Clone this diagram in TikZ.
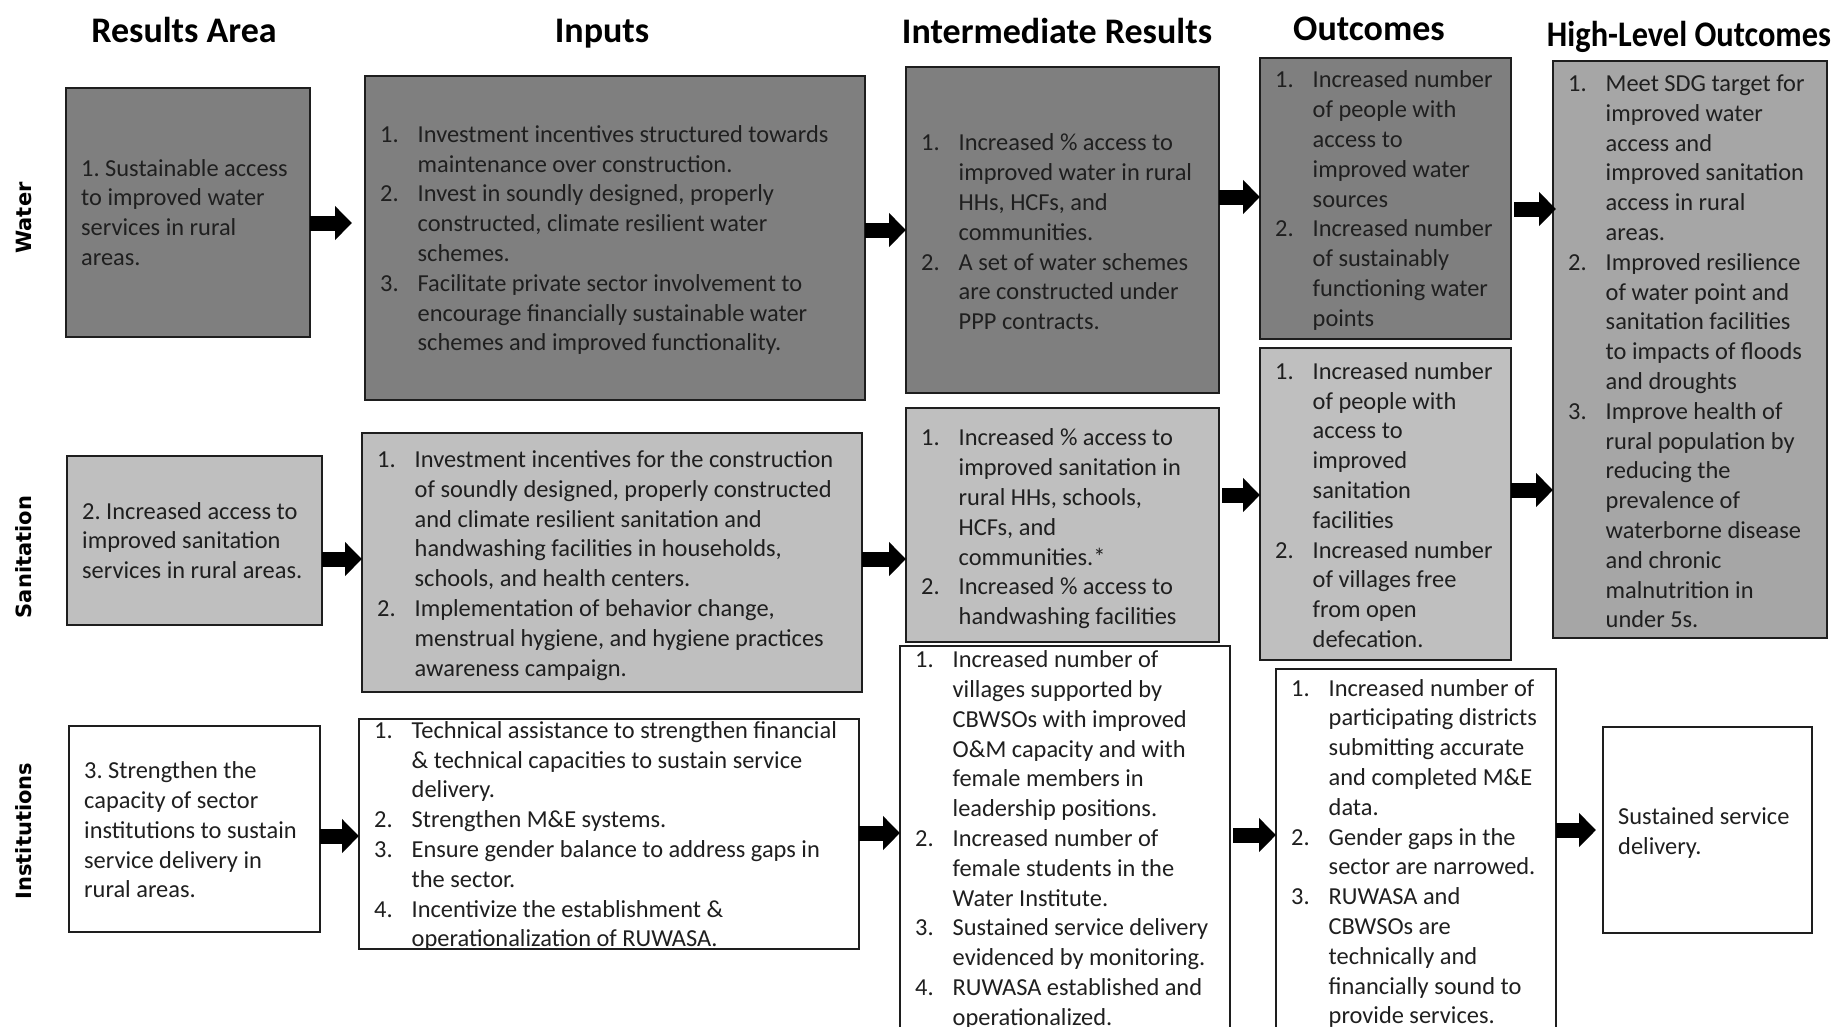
\documentclass[tikz,border=0pt]{standalone}
\usepackage{fontspec}
\setmainfont{Carlito}
\newfontfamily\lblfont{DejaVu Sans}
\usetikzlibrary{arrows.meta,calc}
\newcommand{\numlab}[1]{\makebox[37.5pt][l]{#1}}
\definecolor{darkfill}{HTML}{7F7F7F}
\definecolor{lightfill}{HTML}{BFBFBF}
\definecolor{midfill}{HTML}{A6A6A6}
\definecolor{edge}{HTML}{1E1E1E}
\definecolor{ink}{HTML}{1F1F1F}
\frenchspacing
\begin{document}
\begin{tikzpicture}[x=1pt,y=-1pt,
  box/.style={draw=edge, line width=2.2pt, anchor=north west, outer sep=0pt, inner sep=0pt},
  txt/.style={anchor=west, align=left, inner sep=0pt, font=\frenchspacing\fontsize{24.4}{29.8}\selectfont, text=ink},
  txttop/.style={txt, anchor=north west},
  blockarrow/.style={line width=15pt, draw=black, -{Triangle[length=17pt,width=33pt]}},
  header/.style={anchor=base, font=\fontsize{36}{40}\selectfont\bfseries},
  rowlabel/.style={rotate=90, font=\lblfont\bfseries\fontsize{21}{24}\selectfont}]
\useasboundingbox (0,0) rectangle (1835,1026);
\clip (0,0) rectangle (1835,1026);
\fill[white] (0,0) rectangle (1835,1026);

% headers
\node[header] (h1) at (184,42) {Results Area};
\node[header] (h2) at (602,42) {Inputs};
\node[header] (h3) at (1057,43) {Intermediate Results};
\node[header] (h4) at (1369,40) {Outcomes};
\node[header] (h5) at (1689,46) {\scalebox{0.9}[1]{High-Level Outcomes}};

% row labels
\node[rowlabel] (lw) at (24,218) {Water};
\node[rowlabel] (ls) at (24,557) {Sanitation};
\node[rowlabel] (li) at (24,831) {Institutions};

% ---------- boxes ----------
\node[box, fill=darkfill, minimum width=244pt, minimum height=249pt] (RA1) at (66,88) {};
\node[box, fill=darkfill, minimum width=500pt, minimum height=324pt] (IN1) at (365,76) {};
\node[box, fill=darkfill, minimum width=313pt, minimum height=326pt] (IR1) at (906,67) {};
\node[box, fill=darkfill, minimum width=251pt, minimum height=281pt] (OC1) at (1260,58) {};
\node[box, fill=midfill, minimum width=274pt, minimum height=577pt] (HL) at (1553,61) {};
\node[box, fill=lightfill, minimum width=255pt, minimum height=169pt] (RA2) at (67,456) {};
\node[box, fill=lightfill, minimum width=500pt, minimum height=259pt] (IN2) at (362,433) {};
\node[box, fill=lightfill, minimum width=313pt, minimum height=234pt] (IR2) at (906,408) {};
\node[box, fill=lightfill, minimum width=251pt, minimum height=312pt] (OC2) at (1260,348) {};
\node[box, fill=white, minimum width=251pt, minimum height=206pt] (RA3) at (69,726) {};
\node[box, fill=white, minimum width=500pt, minimum height=230pt] (IN3) at (359,719) {};
\node[box, fill=white, minimum width=330pt, minimum height=400pt] (IR3) at (900,646) {};
\node[box, fill=white, minimum width=280pt, minimum height=377pt] (OC3) at (1276,669) {};
\node[box, fill=white, minimum width=209pt, minimum height=206pt] (HL3) at (1603,727) {};

% ---------- texts ----------
\node[txt] (RA1t) at ($(RA1.west)+(15,0)$)
 {1. Sustainable access\\to improved water\\services in rural\\areas.};
\node[txt] (IN1t) at ($(IN1.west)+(15,2)$)
 {\numlab{1.}Investment incentives structured towards\\
  \numlab{}maintenance over construction.\\
  \numlab{2.}Invest in soundly designed, properly\\
  \numlab{}constructed, climate resilient water\\
  \numlab{}schemes.\\
  \numlab{3.}Facilitate private sector involvement to\\
  \numlab{}encourage financially sustainable water\\
  \numlab{}schemes and improved functionality.};
\node[txt] (IR1t) at ($(IR1.west)+(15,2)$)
 {\numlab{1.}Increased \% access to\\
  \numlab{}improved water in rural\\
  \numlab{}HHs, HCFs, and\\
  \numlab{}communities.\\
  \numlab{2.}A set of water schemes\\
  \numlab{}are constructed under\\
  \numlab{}PPP contracts.};
\node[txt] (OC1t) at ($(OC1.west)+(15,2)$)
 {\numlab{1.}Increased number\\
  \numlab{}of people with\\
  \numlab{}access to\\
  \numlab{}improved water\\
  \numlab{}sources\\
  \numlab{2.}Increased number\\
  \numlab{}of sustainably\\
  \numlab{}functioning water\\
  \numlab{}points};
\node[txt] (HLt) at ($(HL.west)+(15,2)$)
 {\numlab{1.}Meet SDG target for\\
  \numlab{}improved water\\
  \numlab{}access and\\
  \numlab{}improved sanitation\\
  \numlab{}access in rural\\
  \numlab{}areas.\\
  \numlab{2.}Improved resilience\\
  \numlab{}of water point and\\
  \numlab{}sanitation facilities\\
  \numlab{}to impacts of floods\\
  \numlab{}and droughts\\
  \numlab{3.}Improve health of\\
  \numlab{}rural population by\\
  \numlab{}reducing the\\
  \numlab{}prevalence of\\
  \numlab{}waterborne disease\\
  \numlab{}and chronic\\
  \numlab{}malnutrition in\\
  \numlab{}under 5s.};
\node[txt] (RA2t) at ($(RA2.west)+(15,0)$)
 {2. Increased access to\\improved sanitation\\services in rural areas.};
\node[txt] (IN2t) at ($(IN2.west)+(15,3)$)
 {\numlab{1.}Investment incentives for the construction\\
  \numlab{}of soundly designed, properly constructed\\
  \numlab{}and climate resilient sanitation and\\
  \numlab{}handwashing facilities in households,\\
  \numlab{}schools, and health centers.\\
  \numlab{2.}Implementation of behavior change,\\
  \numlab{}menstrual hygiene, and hygiene practices\\
  \numlab{}awareness campaign.};
\node[txt] (IR2t) at ($(IR2.west)+(15,4)$)
 {\numlab{1.}Increased \% access to\\
  \numlab{}improved sanitation in\\
  \numlab{}rural HHs, schools,\\
  \numlab{}HCFs, and\\
  \numlab{}communities.*\\
  \numlab{2.}Increased \% access to\\
  \numlab{}handwashing facilities};
\node[txt] (OC2t) at ($(OC2.west)+(15,1)$)
 {\numlab{1.}Increased number\\
  \numlab{}of people with\\
  \numlab{}access to\\
  \numlab{}improved\\
  \numlab{}sanitation\\
  \numlab{}facilities\\
  \numlab{2.}Increased number\\
  \numlab{}of villages free\\
  \numlab{}from open\\
  \numlab{}defecation.};
\node[txt] (RA3t) at ($(RA3.west)+(15,1)$)
 {3. Strengthen the\\capacity of sector\\institutions to sustain\\service delivery in\\rural areas.};
\node[txt] (IN3t) at ($(IN3.west)+(15,2)$)
 {\numlab{1.}Technical assistance to strengthen financial\\
  \numlab{}\& technical capacities to sustain service\\
  \numlab{}delivery.\\
  \numlab{2.}Strengthen M\&E systems.\\
  \numlab{3.}Ensure gender balance to address gaps in\\
  \numlab{}the sector.\\
  \numlab{4.}Incentivize the establishment \&\\
  \numlab{}operationalization of RUWASA.};
\node[txttop] (IR3t) at ($(IR3.north west)+(15,4.5)$)
 {\numlab{1.}Increased number of\\
  \numlab{}villages supported by\\
  \numlab{}CBWSOs with improved\\
  \numlab{}O\&M capacity and with\\
  \numlab{}female members in\\
  \numlab{}leadership positions.\\
  \numlab{2.}Increased number of\\
  \numlab{}female students in the\\
  \numlab{}Water Institute.\\
  \numlab{3.}Sustained service delivery\\
  \numlab{}evidenced by monitoring.\\
  \numlab{4.}RUWASA established and\\
  \numlab{}operationalized.};
\node[txttop] (OC3t) at ($(OC3.north west)+(15,10)$)
 {\numlab{1.}Increased number of\\
  \numlab{}participating districts\\
  \numlab{}submitting accurate\\
  \numlab{}and completed M\&E\\
  \numlab{}data.\\
  \numlab{2.}Gender gaps in the\\
  \numlab{}sector are narrowed.\\
  \numlab{3.}RUWASA and\\
  \numlab{}CBWSOs are\\
  \numlab{}technically and\\
  \numlab{}financially sound to\\
  \numlab{}provide services.};
\node[txt] (HL3t) at ($(HL3.west)+(15,3)$)
 {Sustained service\\delivery.};

% ---------- arrows ----------
\draw[blockarrow, shorten >=13pt] (RA1.east |- 0,223) -- (IN1.west |- 0,223);
\draw[blockarrow] (IN1.east |- 0,230) -- (IR1.west |- 0,230);
\draw[blockarrow] (IR1.east |- 0,197) -- (OC1.west |- 0,197);
\draw[blockarrow, shorten <=3pt, shorten >=-3pt] (OC1.east |- 0,209) -- (HL.west |- 0,209);
\draw[blockarrow] (RA2.east |- 0,559) -- (IN2.west |- 0,559);
\draw[blockarrow] (IN2.east |- 0,559) -- (IR2.west |- 0,559);
\draw[blockarrow, shorten <=3pt] (IR2.east |- 0,495) -- (OC2.west |- 0,495);
\draw[blockarrow] (OC2.east |- 0,490) -- (HL.west |- 0,490);
\draw[blockarrow] (RA3.east |- 0,836) -- (IN3.west |- 0,836);
\draw[blockarrow] (IN3.east |- 0,833) -- (IR3.west |- 0,833);
\draw[blockarrow, shorten <=3pt] (IR3.east |- 0,835) -- (OC3.west |- 0,835);
\draw[blockarrow, shorten >=7pt] (OC3.east |- 0,830) -- (HL3.west |- 0,830);
\end{tikzpicture}
\end{document}
